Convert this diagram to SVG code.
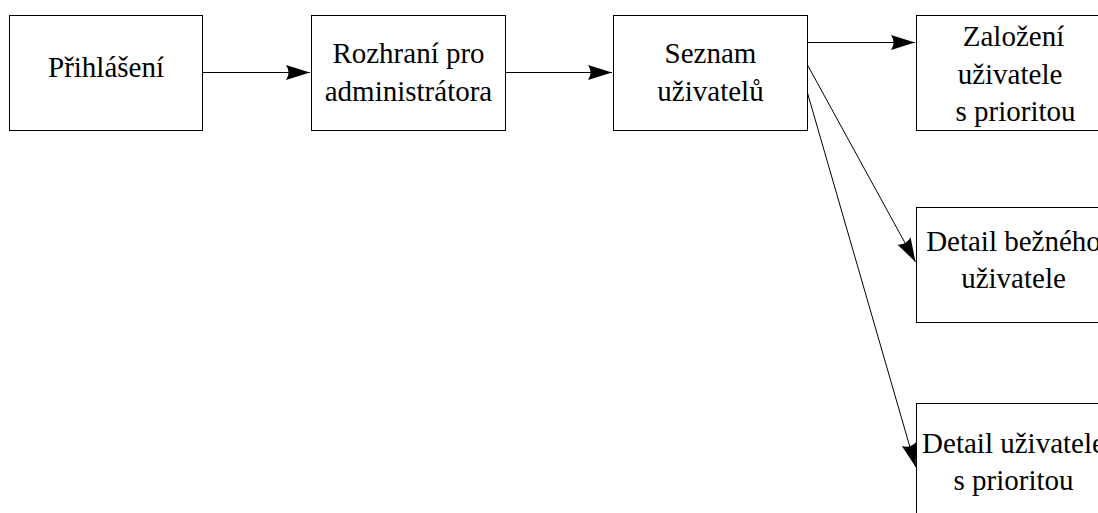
<svg xmlns="http://www.w3.org/2000/svg" width="1098" height="513" viewBox="0 0 1098 513">
<style>
.box{fill:#fff;stroke:#000;stroke-width:1}
.t{font-family:"Liberation Serif","Times New Roman",serif;font-size:29px;fill:#000;text-anchor:middle}
.c{stroke:#000;stroke-width:1;fill:none}
</style>
<defs>
<marker id="ah" markerUnits="userSpaceOnUse" markerWidth="26" markerHeight="16" refX="24" refY="7.5" orient="auto" viewBox="0 0 26 16">
<path d="M0,0 L24,7.5 L0,15 Q5,7.5 0,0 Z" fill="#000"/>
</marker>
</defs>
<rect width="1098" height="513" fill="#fff"/>
<g id="n1"><rect class="box" x="9.5" y="15.5" width="193" height="115"/><text class="t" x="106" y="77">Přihlášení</text></g>
<g id="n2"><rect class="box" x="311.5" y="15.5" width="194" height="115"/><text class="t" x="408.5" y="63">Rozhraní pro</text><text class="t" x="408.5" y="101">administrátora</text></g>
<g id="n3"><rect class="box" x="613.5" y="15.5" width="194" height="115"/><text class="t" x="710.5" y="63">Seznam</text><text class="t" x="710.5" y="101">uživatelů</text></g>
<g id="n4"><rect class="box" x="916.5" y="15.5" width="194" height="115"/><text class="t" x="1013.5" y="46">Založení</text><text class="t" x="1010" y="84">uživatele</text><text class="t" x="1015.5" y="121">s prioritou</text></g>
<g id="n5"><rect class="box" x="916.5" y="207.5" width="194" height="115"/><text class="t" x="1013.5" y="251">Detail bežného</text><text class="t" x="1013.5" y="288">uživatele</text></g>
<g id="n6"><rect class="box" x="916.5" y="403.5" width="194" height="115"/><text class="t" x="1013.5" y="453">Detail uživatele</text><text class="t" x="1013.5" y="490">s prioritou</text></g>
<g id="connectors">
<line class="c" x1="202.5" y1="72.5" x2="310" y2="72.5" marker-end="url(#ah)"/>
<line class="c" x1="505.5" y1="72.5" x2="612" y2="72.5" marker-end="url(#ah)"/>
<line class="c" x1="807.5" y1="42.5" x2="915" y2="42.5" marker-end="url(#ah)"/>
<line class="c" x1="807.5" y1="65" x2="915.5" y2="262" marker-end="url(#ah)"/>
<line class="c" x1="807.5" y1="93" x2="915.7" y2="467" marker-end="url(#ah)"/>
</g>
</svg>
